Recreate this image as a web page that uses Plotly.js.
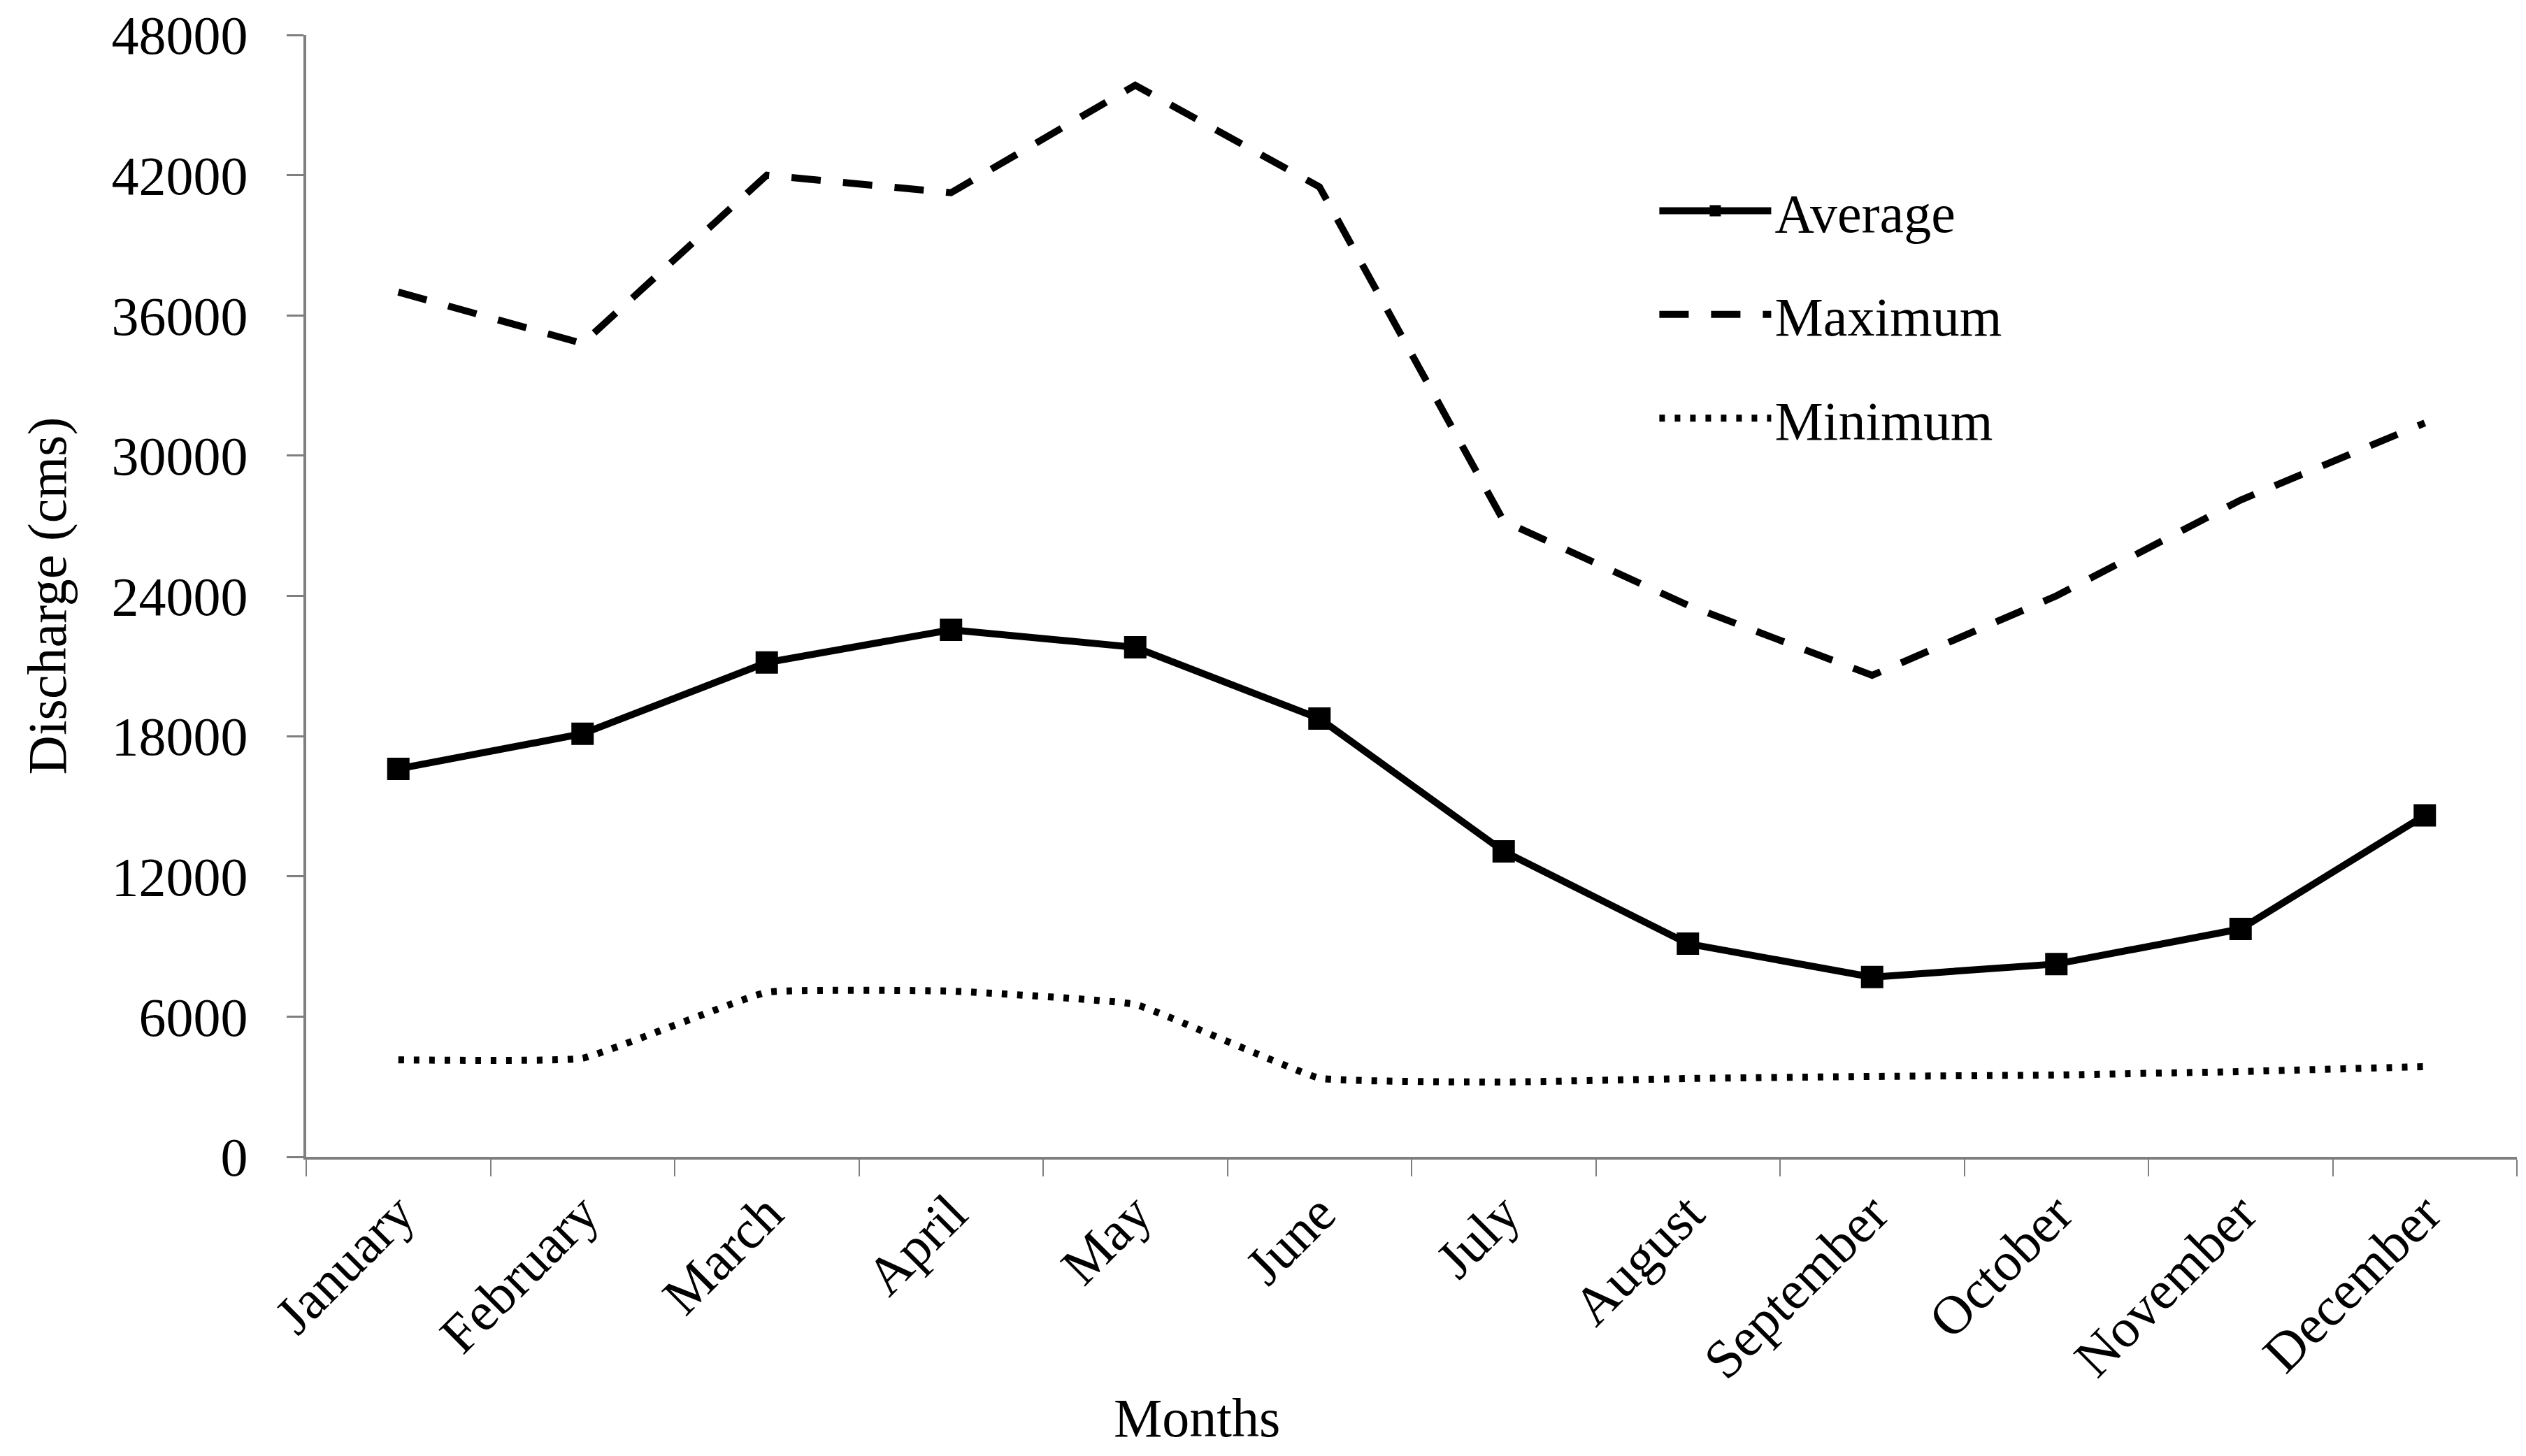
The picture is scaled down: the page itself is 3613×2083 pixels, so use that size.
<!DOCTYPE html>
<html><head><meta charset="utf-8">
<script src="https://cdn.plot.ly/plotly-3.0.1.min.js"></script>
<style>html,body{margin:0;padding:0;background:#fff}#chart{width:3613px;height:2083px}</style>
</head><body><div id="chart"></div>
<script>
const months = ["January","February","March","April","May","June","July","August","September","October","November","December"];
const average = [16600, 18100, 21150, 22550, 21800, 18750, 13070, 9120, 7690, 8250, 9750, 14610];
const maximum = [37000, 34800, 42000, 41250, 45850, 41500, 27200, 23600, 20600, 24000, 28100, 31400];
const minimum = [4150, 4220, 7040, 7090, 6520, 3370, 3200, 3350, 3440, 3500, 3650, 3860];
const yTickVals = [0, 6000, 12000, 18000, 24000, 30000, 36000, 42000, 48000];
const seriesNames = ["Average", "Maximum", "Minimum"];
const xTitle = "Months";
const yTitle = "Discharge (cms)";

const FONT = "Liberation Serif, Times New Roman, serif";
const traces = [
  {x: months, y: average, name: seriesNames[0], type: "scatter", mode: "lines+markers",
   legendgroup: "a",
   line: {color: "#000", width: 10},
   marker: {symbol: "square", size: 32, color: "#000"}},
  {x: months, y: maximum, name: seriesNames[1], type: "scatter", mode: "lines",
   legendgroup: "b",
   line: {color: "#000", width: 10, dash: "42px,32px"}},
  {x: months, y: minimum, name: seriesNames[2], type: "scatter", mode: "lines",
   legendgroup: "c",
   line: {color: "#000", width: 10, dash: "8px,14px", shape: "spline", smoothing: 0.3}}
];
const layout = {
  width: 3613, height: 2083,
  margin: {l: 438, r: 13, t: 50, b: 428},
  paper_bgcolor: "#fff", plot_bgcolor: "#fff",
  font: {family: FONT, size: 78, color: "#000"},
  showlegend: true,
  legend: {x: 0.6105, y: 0.879, xanchor: "left", yanchor: "top", bgcolor: "rgba(0,0,0,0)",
           font: {family: FONT, size: 78, color: "#000"}, tracegroupgap: 44, traceorder: "grouped", itemwidth: 160},
  xaxis: {type: "category", range: [-0.5, 11.5], tickson: "boundaries", ticks: "outside", ticklen: 24,
          tickwidth: 2, tickcolor: "#7f7f7f", showline: true, linecolor: "#7f7f7f", linewidth: 4,
          showgrid: false, zeroline: false, tickangle: -45, tickfont: {family: FONT, size: 78}},
  yaxis: {range: [0, 48000], tickvals: yTickVals, ticktext: yTickVals.map(String), ticks: "outside", ticklen: 24,
          tickwidth: 3, tickcolor: "#7f7f7f", showline: true, linecolor: "#7f7f7f", linewidth: 4,
          showgrid: false, zeroline: false, tickfont: {family: FONT, size: 78}, ticklabelstandoff: 40,
          title: {text: yTitle, font: {family: FONT, size: 78}, standoff: 40}},
  annotations: [
    {text: xTitle, xref: "paper", yref: "paper", x: 0.403, y: -0.233, xanchor: "center", yanchor: "middle",
     showarrow: false, font: {family: FONT, size: 78, color: "#000"}}
  ]
};
Plotly.newPlot("chart", traces, layout, {staticPlot: true});
</script></body></html>
